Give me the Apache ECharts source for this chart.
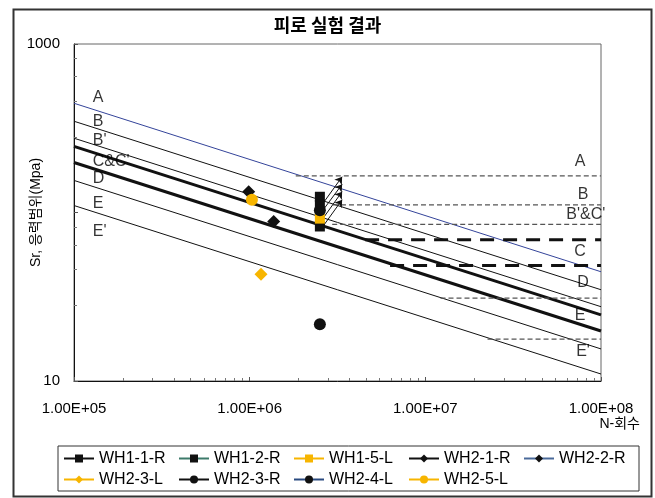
<!DOCTYPE html>
<html>
<head>
<meta charset="utf-8">
<script src="https://cdn.jsdelivr.net/npm/echarts@6/dist/echarts.min.js"></script>
<style>
  html, body { margin: 0; padding: 0; background: #fff; }
  #main { width: 655px; height: 498px; }
</style>
</head>
<body>
<div id="main"></div>
<script>
// S-N design curves, stress range (MPa) read at N=1e5 and N=1e8
const curveNames = ['A', 'B', "B'", 'C', 'D', 'E', "E'"];
const curveStartN = 1e5;
const curveEndN = 1e8;
const curveStartS = [445, 348, 276, 247, 198, 155, 110];
const curveEndS = [44.5, 34.8, 27.6, 24.7, 19.8, 15.5, 11.0];

// constant amplitude thresholds (horizontal dashed lines)
const caftNames = ['A', 'B', "B'&C'", 'C', 'D', 'E', "E'"];
const caftStartN = [1.83e6, 2.98e6, 2.95e6, 4.54e6, 6.3e6, 1.22e7, 2.26e7];
const caftS = [165, 111, 85, 69, 48.5, 31, 17.7];

// curve labels
const leftLabels = ['A', 'B', "B'", "C&C'", 'D', 'E', "E'"];
const leftLabelN = [1.27e5, 1.27e5, 1.27e5, 1.27e5, 1.27e5, 1.27e5, 1.27e5];
const leftLabelS = [479, 345, 267, 200, 159, 113, 77];
const rightLabels = ['A', 'B', "B'&C'", 'C', 'D', 'E', "E'"];
const rightLabelN = [7.6e7, 7.9e7, 8.2e7, 7.6e7, 7.9e7, 7.6e7, 7.9e7];
const rightLabelS = [200, 128, 97, 58.7, 38.5, 24.5, 14.9];

// test results [N, Sr]
const wh11R = [[2.51e6, 124], [2.51e6, 111]];
const wh12R = [[2.51e6, 82.6]];
const wh15L = [[2.51e6, 92]];
const wh21R = [[9.87e5, 133]];
const wh22R = [[1.37e6, 88.5]];
const wh23L = [[1.16e6, 43]];
const wh23R = [[2.51e6, 21.7]];
const wh24L = [[2.51e6, 103]];
const wh25L = [[1.03e6, 119]];

// run-out arrows
const runoutFrom = [[2.61e6, 113], [2.61e6, 103], [2.61e6, 92], [2.61e6, 82.6]];
const runoutTo = [[3.36e6, 163], [3.36e6, 147], [3.36e6, 133], [3.36e6, 119]];

const FONT = "'Liberation Sans', 'Noto Sans CJK KR', sans-serif";
const YELLOW = '#f7b500';

const chart = echarts.init(document.getElementById('main'));

let series = [];

/** S-N 곡선 **/
curveNames.forEach((name, i) => {
  let color = name === 'A' ? '#34449a' : '#111';
  let width = (name === 'C' || name === 'D') ? 3 : 1;
  series.push({
    name: 'curve ' + name,
    type: 'line',
    data: [[curveStartN, curveStartS[i]], [curveEndN, curveEndS[i]]],
    symbol: 'none',
    silent: true,
    z: 2,
    lineStyle: {color: color, width: width}
  });
});

/** 수평 점선 **/
caftNames.forEach((name, i) => {
  let thick = name === 'C' || name === 'D';
  series.push({
    name: 'caft ' + name,
    type: 'line',
    data: [[caftStartN[i], caftS[i]], [curveEndN, caftS[i]]],
    symbol: 'none',
    silent: true,
    z: 2,
    lineStyle: thick
      ? {color: '#111', width: 3, type: [14, 9]}
      : {color: '#555', width: 1.2, type: [5, 3]}
  });
});

/** 곡선 라벨 **/
const labelStyle = {show: true, color: '#000', fontSize: 16, fontFamily: FONT};
series.push({
  name: 'leftLabels',
  type: 'scatter',
  symbolSize: 1,
  silent: true,
  itemStyle: {color: 'rgba(0,0,0,0)'},
  label: Object.assign({position: 'right', distance: 0, formatter: p => p.name}, labelStyle),
  data: leftLabels.map((t, i) => ({name: t, value: [leftLabelN[i], leftLabelS[i]]}))
});
series.push({
  name: 'rightLabels',
  type: 'scatter',
  symbolSize: 1,
  silent: true,
  itemStyle: {color: 'rgba(0,0,0,0)'},
  label: Object.assign({position: 'inside', formatter: p => p.name}, labelStyle),
  data: rightLabels.map((t, i) => ({name: t, value: [rightLabelN[i], rightLabelS[i]]}))
});

/** 시험 결과 **/
const testSeries = [
  {name: 'WH1-1-R', data: wh11R, symbol: 'rect', size: 10, color: '#111', line: '#111'},
  {name: 'WH1-2-R', data: wh12R, symbol: 'rect', size: 10, color: '#111', line: '#3d7a6a'},
  {name: 'WH1-5-L', data: wh15L, symbol: 'rect', size: 10, color: YELLOW, line: YELLOW},
  {name: 'WH2-1-R', data: wh21R, symbol: 'diamond', size: 13, color: '#111', line: '#111'},
  {name: 'WH2-2-R', data: wh22R, symbol: 'diamond', size: 13, color: '#111', line: '#4a6a9a'},
  {name: 'WH2-3-L', data: wh23L, symbol: 'diamond', size: 13, color: YELLOW, line: YELLOW},
  {name: 'WH2-3-R', data: wh23R, symbol: 'circle', size: 12, color: '#111', line: '#111'},
  {name: 'WH2-4-L', data: wh24L, symbol: 'circle', size: 12, color: '#111', line: '#2a4a80'},
  {name: 'WH2-5-L', data: wh25L, symbol: 'circle', size: 12, color: YELLOW, line: YELLOW}
];
testSeries.forEach(s => {
  series.push({
    name: s.name,
    type: 'line',
    data: s.data,
    symbol: s.symbol,
    symbolSize: s.size,
    showAllSymbol: true,
    z: 5,
    itemStyle: {color: s.color, borderWidth: 0},
    lineStyle: {color: s.line, width: 1.5}
  });
});

// run-out arrows
series.push({
  name: 'runout',
  type: 'line',
  data: [],
  z: 6,
  markLine: {
    silent: true,
    symbol: ['none', 'arrow'],
    symbolSize: 7,
    label: {show: false},
    lineStyle: {color: '#111', width: 1, type: 'solid'},
    data: runoutFrom.map((f, i) => [{coord: f}, {coord: runoutTo[i]}])
  }
});

chart.setOption({
  animation: false,
  backgroundColor: '#fff',
  title: {
    text: '피로 실험 결과',
    left: 'center',
    top: 11,
    textStyle: {fontFamily: 'Noto Sans CJK KR', fontSize: 18, fontWeight: 'bold', color: '#000'}
  },
  grid: {
    left: 74, right: 54, top: 44, bottom: 117,
    show: true, borderColor: '#666', borderWidth: 1, backgroundColor: '#fff'
  },
  legend: {
    data: testSeries.map(s => s.name),
    left: 58,
    top: 446,
    width: 575,
    padding: [4, 5, 3, 5],
    itemWidth: 30,
    itemHeight: 10,
    itemGap: 4,
    borderColor: '#333',
    borderWidth: 1,
    textStyle: {fontFamily: FONT, fontSize: 16, color: '#000', width: 75, lineHeight: 17}
  },
  xAxis: {
    type: 'log',
    logBase: 10,
    min: 1e5,
    max: 1e8,
    axisLine: {lineStyle: {color: '#111'}},
    axisTick: {show: true, inside: true, length: 4, lineStyle: {color: '#555'}},
    minorTick: {show: true, splitNumber: 10, length: 3, lineStyle: {color: '#777'}},
    splitLine: {show: false},
    axisLabel: {
      margin: 20,
      fontFamily: FONT,
      fontSize: 15,
      color: '#000',
      formatter: v => '1.00E+' + String(Math.round(Math.log10(v))).padStart(2, '0')
    }
  },
  yAxis: {
    type: 'log',
    logBase: 10,
    min: 10,
    max: 1000,
    name: 'Sr, 응력범위(Mpa)',
    nameLocation: 'middle',
    nameGap: 31,
    nameMoveOverlap: false,
    nameRotate: 90,
    nameTextStyle: {fontFamily: FONT, fontSize: 14, color: '#000'},
    axisLine: {lineStyle: {color: '#111'}},
    axisTick: {show: true, inside: true, length: 4, lineStyle: {color: '#555'}},
    minorTick: {show: true, splitNumber: 5, length: 3, lineStyle: {color: '#777'}},
    splitLine: {show: false},
    axisLabel: {
      margin: 14,
      fontFamily: FONT,
      fontSize: 15,
      color: '#000',
      formatter: v => (Math.round(v) === 100 ? '' : String(Math.round(v)))
    }
  },
  graphic: [
    {
      type: 'rect',
      left: 11, top: 7,
      shape: {width: 638, height: 487},
      style: {fill: 'none', stroke: '#333', lineWidth: 2},
      silent: true
    },
    {
      type: 'text',
      right: 15, top: 417,
      style: {text: 'N-회수', fontFamily: FONT, fontSize: 14, fill: '#000'}
    }
  ],
  series: series
});
</script>
</body>
</html>
